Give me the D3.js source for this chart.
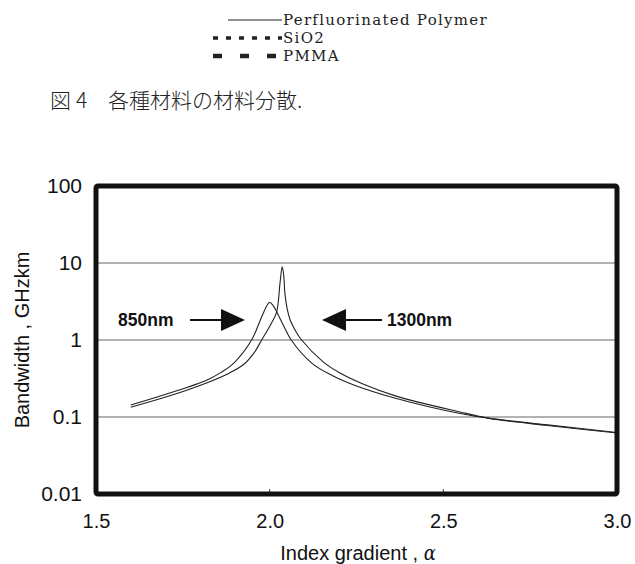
<!DOCTYPE html>
<html><head><meta charset="utf-8">
<script src="https://cdn.jsdelivr.net/npm/d3@7/dist/d3.min.js"></script>
<style>
html,body{margin:0;padding:0;background:#fff;}
svg{display:block;}
</style></head>
<body>
<svg id="chart" width="635" height="564"></svg>
<script>
// ---- data ----
const alpha850 = [1.60,1.71,1.82,1.86,1.896,1.948,1.977,1.993,2.000,2.010,2.020,2.039,2.062,2.122,2.180,2.248,2.362,2.458,2.545,2.633,2.80,3.0];
const bw850    = [0.143,0.203,0.303,0.38,0.498,1.0,2.0,2.85,3.09,2.8,2.33,1.57,1.0,0.498,0.346,0.255,0.175,0.136,0.112,0.096,0.079,0.063];
const alpha1300 = [1.60,1.71,1.82,1.88,1.925,1.955,1.977,2.005,2.020,2.030,2.036,2.040,2.044,2.050,2.059,2.075,2.092,2.154,2.200,2.267,2.362,2.545,2.633,2.80,3.0];
const bw1300    = [0.134,0.187,0.279,0.365,0.48,0.68,1.0,1.65,2.3,5.6,8.95,7.2,4.0,2.6,1.82,1.3,1.0,0.52,0.378,0.27,0.188,0.117,0.096,0.0775,0.062];
const xTicks = [1.5, 2.0, 2.5, 3.0];
const yTicks = [0.01, 0.1, 1, 10, 100];
const yTickLabels = ["0.01","0.1","1","10","100"];
const gridValues = [0.1, 1, 10];
const legendLabels = ["Perfluorinated Polymer","SiO2","PMMA"];
const caption = ["図","4","各種材料の材料分散."];
const xTitle = "Index gradient , ";
const yTitle = "Bandwidth , GHzkm";
const annotLabels = ["850nm", "1300nm"];

// ---- layout ----
const svg = d3.select("#chart");
const L = 96, R = 617, T = 186, B = 494;
const x = d3.scaleLinear().domain([1.5, 3.0]).range([L, R]);
const y = d3.scaleLog().domain([0.01, 100]).range([B, T]);
const sans = "'Liberation Sans', Arial, sans-serif";
const serif = "'DejaVu Serif', 'Liberation Serif', serif";

// caption
const cap = svg.append("text").attr("y", 108)
  .style("font-family", "'Noto Sans CJK JP', sans-serif").style("font-size", "21px")
  .style("font-weight", 300).attr("fill", "#222");
cap.append("tspan").attr("x", 50).text(caption[0]);
cap.append("tspan").attr("x", 76).text(caption[1]);
cap.append("tspan").attr("x", 108).text(caption[2]);

// legend
const legY = [20, 38, 56];
const legDash = [null, "5,8", "9,18"];
const legW = [1.2, 3.5, 4.5];
const legX0 = [228, 213, 213];
legendLabels.forEach((t, i) => {
  svg.append("line").attr("x1", legX0[i]).attr("x2", 282).attr("y1", legY[i]).attr("y2", legY[i])
    .attr("stroke", "#222").attr("stroke-width", legW[i])
    .attr("stroke-dasharray", legDash[i]);
  svg.append("text").attr("x", 283).attr("y", legY[i]).attr("dy", "0.35em")
    .style("font-family", serif).style("font-size", "15px").style("letter-spacing", "1.3px")
    .attr("fill", "#222").text(t);
});

// gridlines
svg.append("g").selectAll("line").data(gridValues).join("line")
  .attr("x1", L).attr("x2", R).attr("y1", d => y(d)).attr("y2", d => y(d))
  .attr("stroke", "#666").attr("stroke-width", 1.2);

// bottom small ticks
svg.append("g").selectAll("line").data(xTicks.slice(1, 3)).join("line")
  .attr("x1", d => x(d)).attr("x2", d => x(d)).attr("y1", B).attr("y2", B - 5)
  .attr("stroke", "#444").attr("stroke-width", 1);

// curves
const line = d3.line().x(d => x(d[0])).y(d => y(d[1])).curve(d3.curveCatmullRom.alpha(0.5));
const s850 = alpha850.map((a, i) => [a, bw850[i]]);
const s1300 = alpha1300.map((a, i) => [a, bw1300[i]]);
[s850, s1300].forEach(s => {
  svg.append("path").datum(s).attr("d", line).attr("fill", "none")
    .attr("stroke", "#222").attr("stroke-width", 1.1);
});

// frame
svg.append("rect").attr("x", L).attr("y", T).attr("width", R - L).attr("height", B - T)
  .attr("fill", "none").attr("stroke", "#111").attr("stroke-width", 5).attr("rx", 2);

// y axis labels
const yAxis = d3.axisLeft(y).tickValues(yTicks).tickSize(0).tickPadding(14)
  .tickFormat((d, i) => yTickLabels[i]);
const gy = svg.append("g").attr("transform", `translate(${L},0)`).call(yAxis);
gy.select(".domain").remove();
gy.selectAll("text").style("font-family", sans).style("font-size", "21px").attr("fill", "#111");

// x axis labels
const xAxis = d3.axisBottom(x).tickValues(xTicks).tickSize(0).tickPadding(20)
  .tickFormat(d3.format(".1f"));
const gx = svg.append("g").attr("transform", `translate(0,${B})`).call(xAxis);
gx.select(".domain").remove();
gx.selectAll("text").style("font-family", sans).style("font-size", "20px").attr("fill", "#111");

// axis titles
const xt = svg.append("text").attr("x", 358).attr("y", 560).attr("text-anchor", "middle")
  .style("font-family", "'Liberation Sans Narrow', 'Liberation Sans', sans-serif")
  .style("font-stretch", "condensed").style("font-size", "20px").attr("fill", "#111");
xt.append("tspan").text(xTitle);
xt.append("tspan").style("font-family", serif).style("font-style", "italic").text("α");

svg.append("text").attr("transform", "translate(29,340) rotate(-90)").attr("text-anchor", "middle")
  .style("font-family", sans).style("font-size", "20px").attr("fill", "#111").text(yTitle);

// annotations
const ay = 320;
svg.append("text").attr("x", 118).attr("y", ay).attr("dy", "0.35em")
  .style("font-family", sans).style("font-size", "17.5px").style("font-weight", "bold").attr("fill", "#111").text(annotLabels[0]);
svg.append("line").attr("x1", 190).attr("x2", 224).attr("y1", ay).attr("y2", ay).attr("stroke", "#111").attr("stroke-width", 2);
svg.append("path").attr("d", `M221,${ay-11} L245,${ay} L221,${ay+11} Z`).attr("fill", "#111");
svg.append("line").attr("x1", 343).attr("x2", 382).attr("y1", ay).attr("y2", ay).attr("stroke", "#111").attr("stroke-width", 2);
svg.append("path").attr("d", `M346,${ay-11} L322,${ay} L346,${ay+11} Z`).attr("fill", "#111");
svg.append("text").attr("x", 387).attr("y", ay).attr("dy", "0.35em")
  .style("font-family", sans).style("font-size", "17.5px").style("font-weight", "bold").attr("fill", "#111").text(annotLabels[1]);
</script>
</body></html>
